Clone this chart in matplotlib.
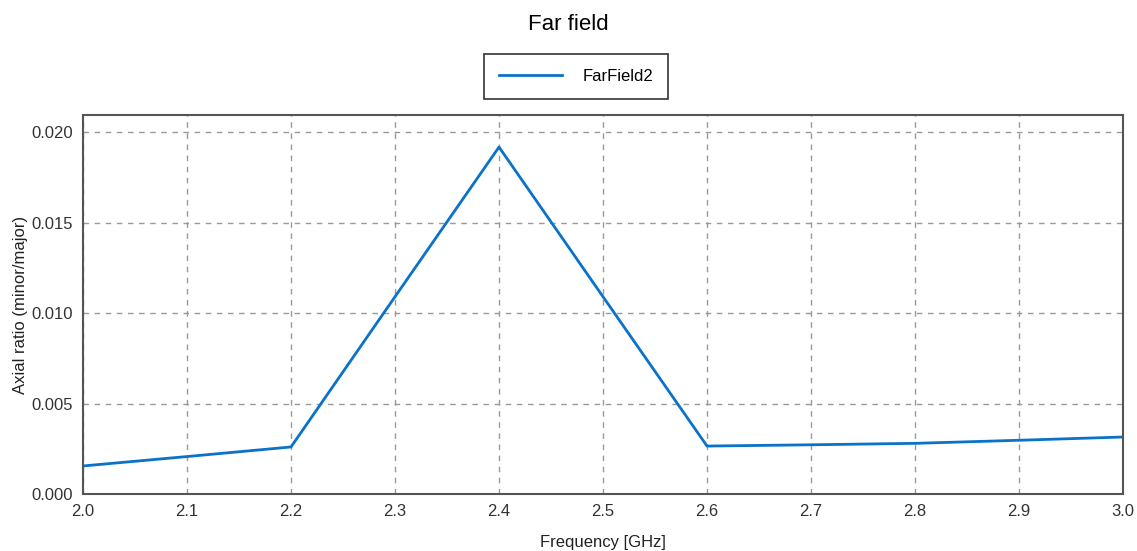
import numpy as np
import matplotlib.pyplot as plt

plt.rcParams['font.family'] = ['Liberation Sans', 'DejaVu Sans']

# Data
freq = [2.0, 2.1, 2.2, 2.3, 2.4, 2.5, 2.6, 2.7, 2.8, 2.9, 3.0]
axial_ratio = [0.00155, 0.00207, 0.0026, 0.0109, 0.01917, 0.0109, 0.00265, 0.00272, 0.0028, 0.00297, 0.00315]

fig = plt.figure(figsize=(11.37, 5.51), dpi=100)
ax = fig.add_axes([0.073, 0.1034, 0.9147, 0.6879])

ax.plot(freq, axial_ratio, color='#0a72c8', linewidth=2, label='FarField2')

ax.set_xlim(2.0, 3.0)
ax.set_ylim(0, 0.02094)
ax.set_xticks(np.arange(2.0, 3.01, 0.1))
ax.set_yticks([0.0, 0.005, 0.010, 0.015, 0.020])
ax.set_yticklabels(['0.000', '0.005', '0.010', '0.015', '0.020'])
ax.set_xticklabels(['%.1f' % v for v in np.arange(2.0, 3.01, 0.1)])
ax.tick_params(length=0, labelsize=12, colors='#333333', pad=7)
ax.grid(True, linestyle=(0, (4, 4)), color='#999999', linewidth=1)
for s in ax.spines.values():
    s.set_color('#555555')
    s.set_linewidth(1.5)

ax.set_xlabel('Frequency [GHz]', fontsize=12, color='#222222', labelpad=12)
fig.text(20 / 1137, 0.446, 'Axial ratio (minor/major)', fontsize=12, color='#222222',
         rotation=90, ha='center', va='center')

fig.suptitle('Far field', fontsize=16, x=0.5, y=0.975)
leg = fig.legend(loc='center', bbox_to_anchor=(0.5066, 0.862), fontsize=12,
                 fancybox=False, edgecolor='#333333', framealpha=1,
                 handlelength=3.8, borderpad=0.9, handletextpad=1.2, borderaxespad=0)
leg.get_frame().set_linewidth(1.2)

fig.savefig('out.png', dpi=100)
